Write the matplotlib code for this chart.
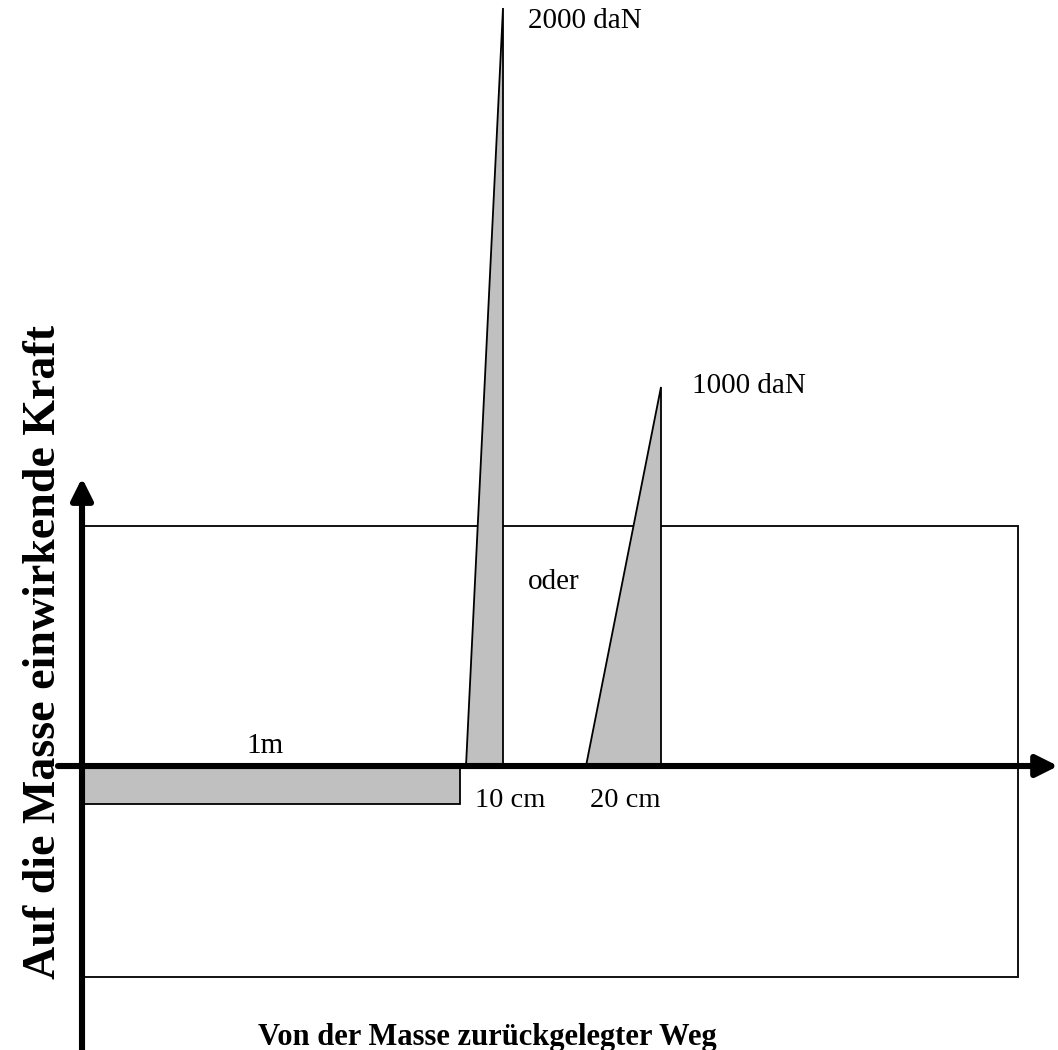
import matplotlib
matplotlib.use("Agg")
import matplotlib.pyplot as plt
from matplotlib.patches import Polygon, Rectangle

plt.rcParams['font.family'] = ['Liberation Serif', 'DejaVu Serif']

# braking examples: distance (cm) and force (daN)
rect_dist = 100       # 1 m
rect_force = 100
tri_start = [102.0, 134.0]
tri_len = [10, 20]
tri_force = [2000, 1000]
tri_labels = ["2000 daN", "1000 daN"]
dist_labels = ["10 cm", "20 cm"]

# frame box (cm / daN)
box_x = [0.5, 249.0]
box_y = [-557, 633]

fig = plt.figure(figsize=(10.58, 10.5), dpi=100)
ax = fig.add_axes([0, 0, 1, 1])
ax.set_xlim(-21.81, 259.57)
ax.set_ylim(-749.3, 2021.1)
ax.axis('off')

ax.add_patch(Rectangle((box_x[0], box_y[0]), box_x[1] - box_x[0], box_y[1] - box_y[0],
                       fill=False, ec='#111111', lw=1.4, zorder=1))

ax.add_patch(Rectangle((0.5, -rect_force), rect_dist, rect_force,
                       fc='#c0c0c0', ec='black', lw=1.3, zorder=2))

for s, l, f in zip(tri_start, tri_len, tri_force):
    pts = [(s, 0), (s + l, 0), (s + l, f)]
    ax.add_patch(Polygon(pts, closed=True, fc='#c0c0c0', ec='black', lw=1.3,
                         joinstyle='miter', zorder=2))

# axes arrows
arrow = dict(arrowstyle='-|>,head_length=13,head_width=6.5', lw=4.4, color='black',
             mutation_scale=1, shrinkA=0, shrinkB=0)
ax.annotate('', xy=(259.6, 0), xytext=(-6.4, 0), arrowprops=arrow, zorder=3)
ax.annotate('', xy=(0, 760), xytext=(0, -749.3), arrowprops=arrow, zorder=3)

fs = 21
ax.text(118.5, 1966, tri_labels[0], fontsize=fs, va='center', ha='left')
ax.text(162.2, 1003, tri_labels[1], fontsize=fs, va='center', ha='left')
ax.text(125.5, 485, "oder", fontsize=fs, va='center', ha='center')
ax.text(48.7, 53, "1m", fontsize=fs, va='center', ha='center')
ax.text(104.5, -92, dist_labels[0], fontsize=20.5, va='center', ha='left')
ax.text(135, -92, dist_labels[1], fontsize=20.5, va='center', ha='left')

ax.text(107.7, -716, "Von der Masse zurückgelegter Weg", fontsize=22,
        fontweight='bold', va='center', ha='center')
ax.text(-10.2, 300, "Auf die Masse einwirkende Kraft", fontsize=33,
        fontweight='bold', va='center', ha='center', rotation=90)

fig.savefig("out.png", dpi=100)
